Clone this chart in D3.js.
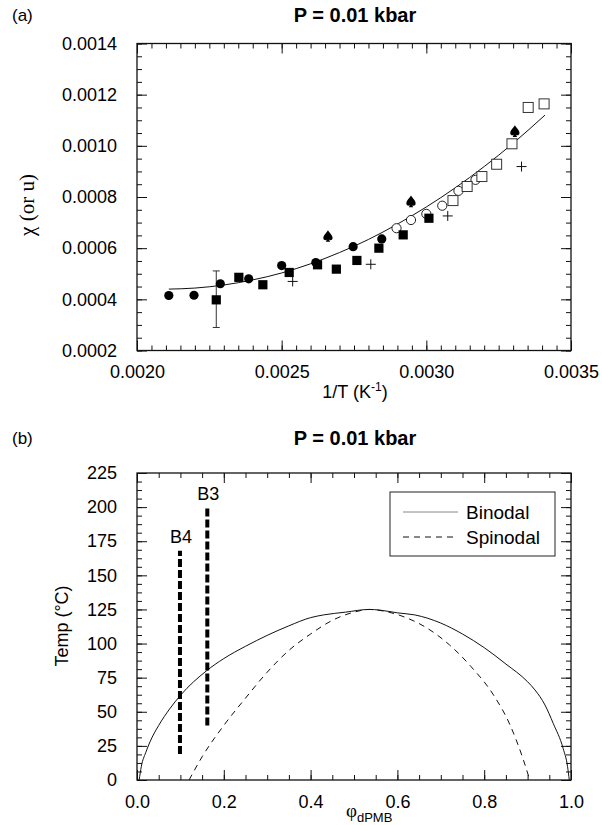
<!DOCTYPE html>
<html>
<head>
<meta charset="utf-8">
<script src="https://cdn.jsdelivr.net/npm/d3@7"></script>
<style>
body { margin: 0; background: #fff; }
text { font-family: "Liberation Sans", Arial, sans-serif; fill: #000; }
text.serif, tspan.serif { font-family: "Liberation Serif", "Times New Roman", serif; }
</style>
</head>
<body>
<div id="chart"></div>
<script>
// ---- panel (a) data: [1/T, chi] ----
var filledCircles = [[0.00211,0.000415],[0.002197,0.000416],[0.002288,0.000461],[0.002386,0.00048],
  [0.0025,0.000532],[0.002618,0.000544],[0.002747,0.000606],[0.002846,0.000636]]
var filledSquares = [[0.002274,0.000398],[0.002352,0.000486],[0.002435,0.000457],[0.002526,0.000505],
  [0.002624,0.000535],[0.002689,0.000518],[0.00276,0.000552],[0.002836,0.0006],[0.00292,0.000652],[0.003009,0.000717]]
var openCircles = [[0.002897,0.000678],[0.002947,0.00071],[0.003,0.000734],[0.003055,0.000766],
  [0.003111,0.000824],[0.00317,0.000867]]
var openSquares = [[0.003092,0.000786],[0.003141,0.000841],[0.003192,0.00088],[0.003243,0.000928],
  [0.003296,0.001008],[0.003352,0.00115],[0.003407,0.001164]]
var crosses = [[0.002538,0.00047],[0.002808,0.000537],[0.003074,0.000726],[0.003329,0.000919]]
var spades = [[0.00266,0.000645],[0.002947,0.00078],[0.003306,0.001055]]
var errorBar = {x: 0.002274, lo: 0.00029, hi: 0.000511}
var fitCurve = [[0.00211,0.000440],[0.0022,0.000444],[0.0023,0.000456],[0.0024,0.000476],[0.0025,0.000503],
  [0.0026,0.000539],[0.0027,0.000583],[0.0028,0.000634],[0.0029,0.000694],[0.003,0.000761],
  [0.0031,0.000836],[0.0032,0.000919],[0.0033,0.00101],[0.00341,0.00112]]
var aXTicks = [0.0020, 0.0025, 0.0030, 0.0035]
var aYTicks = [0.0002, 0.0004, 0.0006, 0.0008, 0.0010, 0.0012, 0.0014]

// ---- panel (b) data: [phi, T] ----
var binodal = [[0.005,0],[0.01,10],[0.02,20],[0.03,28],[0.05,40],[0.075,52],[0.1,62],[0.16,80],[0.2,89],
  [0.25,98],[0.3,106],[0.35,113],[0.4,119],[0.43,121],[0.48,123],[0.535,125],[0.56,124.5],[0.6,122.5],
  [0.64,121],[0.7,115],[0.75,107],[0.8,97],[0.85,85],[0.9,72],[0.917,66],[0.94,55],[0.959,41.5],
  [0.982,23],[0.992,10],[0.996,0]]
var spinodal = [[0.12,0],[0.15,17],[0.2,40],[0.25,60],[0.3,79],[0.35,95],[0.4,107],[0.45,117],[0.5,123],
  [0.535,125],[0.58,123],[0.62,119],[0.67,111],[0.72,99],[0.77,83],[0.82,63],[0.86,40],[0.89,15],[0.905,0]]
var samples = [{name: "B4", phi: 0.099, lo: 19, hi: 168}, {name: "B3", phi: 0.162, lo: 40, hi: 199}]
var bXTicks = [0, 0.2, 0.4, 0.6, 0.8, 1.0]
var bYTicks = [0, 25, 50, 75, 100, 125, 150, 175, 200, 225]

var svg = d3.select("#chart").append("svg")
  .attr("width", 602)
  .attr("height", 825)

function frameAxes(x, y, xMaj, xMin, yMaj, yMin, xFmt, yFmt) {
  var xr = x.range(), yr = y.range()
  function add(axis, tx, ty) {
    var g = svg.append("g").attr("transform", "translate(" + tx + "," + ty + ")").call(axis)
    g.select(".domain").remove()
    g.selectAll("line").attr("stroke", "#111")
    g.selectAll("text").attr("font-size", 18)
    return g
  }
  add(d3.axisBottom(x).tickValues(xMaj).tickSize(-10).tickPadding(15).tickFormat(xFmt), 0, yr[0])
  add(d3.axisBottom(x).tickValues(xMin).tickSize(-5).tickFormat(""), 0, yr[0])
  add(d3.axisTop(x).tickValues(xMaj).tickSize(-10).tickFormat(""), 0, yr[1])
  add(d3.axisTop(x).tickValues(xMin).tickSize(-5).tickFormat(""), 0, yr[1])
  add(d3.axisLeft(y).tickValues(yMaj).tickSize(-10).tickPadding(20).tickFormat(yFmt), xr[0], 0)
  add(d3.axisLeft(y).tickValues(yMin).tickSize(-5).tickFormat(""), xr[0], 0)
  add(d3.axisRight(y).tickValues(yMaj).tickSize(-10).tickFormat(""), xr[1], 0)
  add(d3.axisRight(y).tickValues(yMin).tickSize(-5).tickFormat(""), xr[1], 0)
  svg.append("rect")
    .attr("x", xr[0]).attr("y", yr[1])
    .attr("width", xr[1] - xr[0]).attr("height", yr[0] - yr[1])
    .attr("fill", "none").attr("stroke", "#111").attr("stroke-width", 1.3)
}

// ================= panel (a) =================
var xA = d3.scaleLinear().domain([0.002, 0.0035]).range([137, 571])
var yA = d3.scaleLinear().domain([0.0002, 0.0014]).range([350.5, 43.5])

frameAxes(xA, yA, aXTicks, d3.range(0.002, 0.0035001, 0.00005),
  aYTicks, d3.range(0.0002, 0.0014001, 0.00005), d3.format(".4f"), d3.format(".4f"))

svg.append("text").attr("x", 12).attr("y", 21).attr("font-size", 17).text("(a)")
svg.append("text").attr("x", 355).attr("y", 22).attr("text-anchor", "middle")
  .attr("font-size", 20).attr("font-weight", "bold").text("P = 0.01 kbar")

var xlab = svg.append("text").attr("x", 355).attr("y", 398).attr("text-anchor", "middle").attr("font-size", 18)
xlab.append("tspan").text("1/T (K")
xlab.append("tspan").attr("font-size", 12).attr("dy", -7).text("-1")
xlab.append("tspan").attr("dy", 7).text(")")

svg.append("text").attr("class", "serif")
  .attr("transform", "translate(34,205) rotate(-90)").attr("text-anchor", "middle")
  .attr("font-size", 21).text("χ (or u)")

// fitted curve
svg.append("path")
  .datum(fitCurve)
  .attr("fill", "none").attr("stroke", "#111").attr("stroke-width", 1)
  .attr("d", d3.line().x(d => xA(d[0])).y(d => yA(d[1])).curve(d3.curveMonotoneX))

// error bar
svg.append("line").attr("x1", xA(errorBar.x)).attr("x2", xA(errorBar.x))
  .attr("y1", yA(errorBar.lo)).attr("y2", yA(errorBar.hi)).attr("stroke", "#333")
;[errorBar.lo, errorBar.hi].forEach(v => {
  svg.append("line").attr("x1", xA(errorBar.x) - 3.5).attr("x2", xA(errorBar.x) + 3.5)
    .attr("y1", yA(v)).attr("y2", yA(v)).attr("stroke", "#333")
})

var spadePath = "M0,-6.5 C1.5,-3.5 5,-1.5 4.6,1.6 C4.3,4 1.6,4.2 0.7,2.4 L2.2,5.2 L-2.2,5.2 L-0.7,2.4 C-1.6,4.2 -4.3,4 -4.6,1.6 C-5,-1.5 -1.5,-3.5 0,-6.5 Z"

svg.append("g").selectAll("circle").data(openCircles).join("circle")
  .attr("cx", d => xA(d[0])).attr("cy", d => yA(d[1])).attr("r", 4.6)
  .attr("fill", "#fff").attr("stroke", "#222").attr("stroke-width", 1)
svg.append("g").selectAll("rect").data(openSquares).join("rect")
  .attr("x", d => xA(d[0]) - 5).attr("y", d => yA(d[1]) - 5).attr("width", 10).attr("height", 10)
  .attr("fill", "#fff").attr("stroke", "#333").attr("stroke-width", 1)
svg.append("g").selectAll("circle").data(filledCircles).join("circle")
  .attr("cx", d => xA(d[0])).attr("cy", d => yA(d[1])).attr("r", 4.6).attr("fill", "#000")
svg.append("g").selectAll("rect").data(filledSquares).join("rect")
  .attr("x", d => xA(d[0]) - 4.6).attr("y", d => yA(d[1]) - 4.6).attr("width", 9.2).attr("height", 9.2)
  .attr("fill", "#000")
svg.append("g").selectAll("path").data(crosses).join("path")
  .attr("transform", d => "translate(" + xA(d[0]) + "," + yA(d[1]) + ")")
  .attr("d", "M-5,0H5M0,-5V5").attr("stroke", "#111").attr("stroke-width", 1)
svg.append("g").selectAll("path").data(spades).join("path")
  .attr("transform", d => "translate(" + xA(d[0]) + "," + yA(d[1]) + ")")
  .attr("d", spadePath).attr("fill", "#000")

// ================= panel (b) =================
var xB = d3.scaleLinear().domain([0, 1]).range([137, 571])
var yB = d3.scaleLinear().domain([0, 225]).range([780, 473])

frameAxes(xB, yB, bXTicks, d3.range(0, 1.0001, 0.05),
  bYTicks, d3.range(0, 225.001, 6.25), d3.format(".1f"), d3.format("d"))

svg.append("text").attr("x", 12).attr("y", 444).attr("font-size", 17).text("(b)")
svg.append("text").attr("x", 355).attr("y", 445).attr("text-anchor", "middle")
  .attr("font-size", 20).attr("font-weight", "bold").text("P = 0.01 kbar")

svg.append("text").attr("transform", "translate(68,626) rotate(-90)").attr("text-anchor", "middle")
  .attr("font-size", 18).text("Temp (°C)")

var phiLab = svg.append("text").attr("x", 346).attr("y", 817).attr("font-size", 19)
phiLab.append("tspan").attr("class", "serif").text("φ")
phiLab.append("tspan").attr("font-size", 13).attr("dy", 5).text("dPMB")

var lineB = d3.line().x(d => xB(d[0])).y(d => yB(d[1])).curve(d3.curveMonotoneX)
svg.append("path").datum(binodal)
  .attr("fill", "none").attr("stroke", "#111").attr("stroke-width", 1).attr("d", lineB)
svg.append("path").datum(spinodal)
  .attr("fill", "none").attr("stroke", "#111").attr("stroke-width", 1)
  .attr("stroke-dasharray", "6,5").attr("d", lineB)

svg.append("g").selectAll("line").data(samples).join("line")
  .attr("x1", d => xB(d.phi)).attr("x2", d => xB(d.phi))
  .attr("y1", d => yB(d.lo)).attr("y2", d => yB(d.hi))
  .attr("stroke", "#000").attr("stroke-width", 4).attr("stroke-dasharray", "8,3")
svg.append("g").selectAll("text").data(samples).join("text")
  .attr("x", d => xB(d.phi) + 1).attr("y", d => yB(d.hi) - 8)
  .attr("text-anchor", "middle").attr("font-size", 18).text(d => d.name)

// legend
var leg = svg.append("g").attr("transform", "translate(390,492)")
leg.append("rect").attr("width", 165).attr("height", 64)
  .attr("fill", "#fff").attr("stroke", "#222").attr("stroke-width", 1)
leg.append("line").attr("x1", 13).attr("x2", 68).attr("y1", 20).attr("y2", 20)
  .attr("stroke", "#888").attr("stroke-width", 1)
leg.append("line").attr("x1", 13).attr("x2", 68).attr("y1", 45).attr("y2", 45)
  .attr("stroke", "#111").attr("stroke-width", 1).attr("stroke-dasharray", "6,5")
leg.append("text").attr("x", 76).attr("y", 27).attr("font-size", 19).text("Binodal")
leg.append("text").attr("x", 76).attr("y", 52).attr("font-size", 19).text("Spinodal")
</script>
</body>
</html>
